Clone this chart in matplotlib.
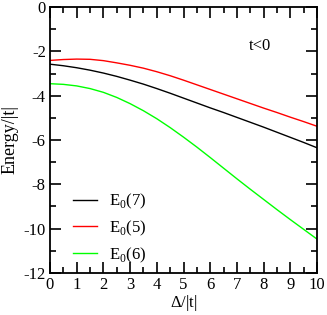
import matplotlib
matplotlib.use("Agg")
import matplotlib.pyplot as plt
import numpy as np

plt.rcParams['font.family'] = ['Liberation Serif', 'DejaVu Serif']
plt.rcParams['mathtext.fontset'] = 'custom'
plt.rcParams['mathtext.rm'] = 'Liberation Serif'
plt.rcParams['axes.unicode_minus'] = False

delta = [0, 0.5, 1, 1.5, 2, 2.5, 3, 3.5, 4, 4.5, 5, 5.5, 6, 6.5, 7, 7.5, 8, 8.5, 9, 9.5, 10]
e7 = [-2.58, -2.65, -2.74, -2.85, -2.98, -3.13, -3.30, -3.48, -3.68, -3.89, -4.11, -4.33, -4.55, -4.76, -4.98, -5.20, -5.42, -5.65, -5.88, -6.11, -6.35]
e5 = [-2.41, -2.37, -2.35, -2.36, -2.42, -2.52, -2.63, -2.76, -2.92, -3.10, -3.30, -3.51, -3.72, -3.93, -4.14, -4.35, -4.56, -4.76, -4.97, -5.17, -5.38]
e6 = [-3.46, -3.49, -3.56, -3.68, -3.85, -4.08, -4.36, -4.68, -5.04, -5.44, -5.87, -6.32, -6.79, -7.27, -7.75, -8.22, -8.68, -9.14, -9.59, -10.03, -10.47]

labels = [r'E$_0$(7)', r'E$_0$(5)', r'E$_0$(6)']
colors = ['#000000', '#ff0000', '#00ff00']

fig = plt.figure(figsize=(3.27, 3.15), dpi=100)
ax = fig.add_axes([50/327, 1 - 273/315, 267/327, 266/315])
for y, lab, c in zip([e7, e5, e6], labels, colors):
    ax.plot(delta, y, color=c, lw=1.0, label=lab)

ax.set_xlim(0, 10)
ax.set_ylim(-12, 0)
ax.set_xticks(range(0, 11))
ax.set_xticks(np.arange(0.5, 10, 1.0), minor=True)
ax.set_yticks(range(-12, 1, 2))
ax.set_yticks(range(-11, 0, 2), minor=True)
ax.tick_params(which='both', direction='in', top=True, right=True, labelsize=12, width=1.2)
ax.tick_params(which='major', length=8, pad=3)
ax.tick_params(which='minor', length=4)
for s in ax.spines.values():
    s.set_linewidth(1.3)
ax.set_xlabel(r'$\Delta$/|t|', fontsize=12, labelpad=0)
ax.set_ylabel('Energy/|t|', fontsize=13, labelpad=4)
ax.text(7.45, -1.75, 't<0', fontsize=12, va='center')
leg = ax.legend(loc='lower left', bbox_to_anchor=(0.03, -0.025), frameon=False, fontsize=12,
                handlelength=1.45, handletextpad=0.7, labelspacing=0.45)
fig.savefig('out.png', dpi=100)
